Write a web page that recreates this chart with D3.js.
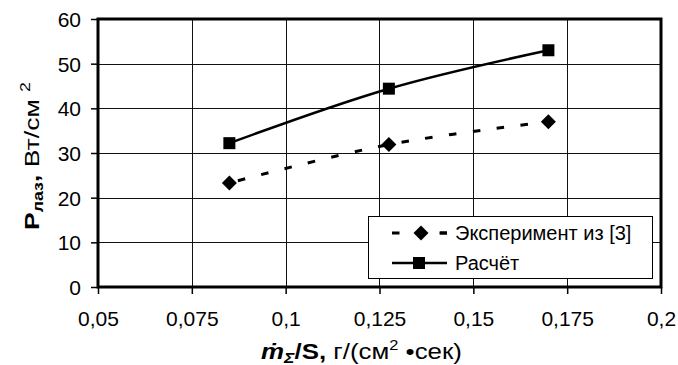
<!DOCTYPE html>
<html>
<head>
<script src="https://d3js.org/d3.v7.min.js"></script>
  <style type="text/css">
    body {
      margin: 0;
      background: #fff;
      font-family: "Liberation Sans", Arial, Helvetica, sans-serif;
    }
    .grid line { stroke: #111; stroke-width: 1; shape-rendering: crispEdges; }
    .axis text { font-size: 21px; fill: #000; font-family: "Liberation Sans", Arial, sans-serif; }
    .axis path, .axis line { stroke: #000; }
  </style>
</head>
<body>
<script type="text/javascript">

  // data
  var xValues = [0.085, 0.1275, 0.17];
  var expValues = [23.3, 31.9, 37.0];     // Эксперимент из [3]
  var calcValues = [32.2, 44.4, 53.0];    // Расчёт
  var seriesNames = ["Эксперимент из [3]", "Расчёт"];

  var xTicks = [0.05, 0.075, 0.1, 0.125, 0.15, 0.175, 0.2];
  var xTickLabels = ["0,05", "0,075", "0,1", "0,125", "0,15", "0,175", "0,2"];
  var yTicks = [0, 10, 20, 30, 40, 50, 60];
  var yTickLabels = ["0", "10", "20", "30", "40", "50", "60"];

  var margin = {top: 19, right: 17, bottom: 78, left: 98};
  var W = 678, H = 365;
  var width = W - margin.left - margin.right;
  var height = H - margin.top - margin.bottom;

  var svg = d3.select("body").append("svg")
      .attr("width", W)
      .attr("height", H);

  var g = svg.append("g")
      .attr("transform", "translate(" + margin.left + "," + margin.top + ")");

  var x = d3.scaleLinear().domain([0.05, 0.2]).range([0, width]);
  var y = d3.scaleLinear().domain([0, 60]).range([height, 0]);

  // grid
  var grid = g.append("g").attr("class", "grid");
  grid.selectAll(".vx").data(xTicks.slice(1, -1)).enter().append("line")
      .attr("x1", function(d) { return Math.round(x(d)) + 0.5; })
      .attr("x2", function(d) { return Math.round(x(d)) + 0.5; })
      .attr("y1", 0).attr("y2", height);
  grid.selectAll(".hy").data(yTicks.slice(1, -1)).enter().append("line")
      .attr("y1", function(d) { return Math.round(y(d)) + 0.5; })
      .attr("y2", function(d) { return Math.round(y(d)) + 0.5; })
      .attr("x1", 0).attr("x2", width);

  // axes
  var xAxis = d3.axisBottom(x).tickValues(xTicks).tickSize(7).tickPadding(17)
      .tickFormat(function(d, i) { return xTickLabels[i]; });
  var yAxis = d3.axisLeft(y).tickValues(yTicks).tickSize(7).tickPadding(10)
      .tickFormat(function(d, i) { return yTickLabels[i]; });

  var gx = g.append("g").attr("class", "axis")
      .attr("transform", "translate(0," + height + ")")
      .call(xAxis);
  gx.select(".domain").remove();
  gx.selectAll("line").attr("stroke-width", 1.5);

  var gy = g.append("g").attr("class", "axis").call(yAxis);
  gy.select(".domain").remove();
  gy.selectAll("line").attr("stroke-width", 1.5);
  gy.selectAll("text").attr("dy", "0.36em");

  // frame
  g.append("rect")
      .attr("x", 0).attr("y", 0)
      .attr("width", width).attr("height", height)
      .attr("fill", "none")
      .attr("stroke", "#000")
      .attr("stroke-width", 3);

  var line = d3.line()
      .x(function(d) { return x(d[0]); })
      .y(function(d) { return y(d[1]); })
      .curve(d3.curveCatmullRom.alpha(0));

  var expData = xValues.map(function(v, i) { return [v, expValues[i]]; });
  var calcData = xValues.map(function(v, i) { return [v, calcValues[i]]; });

  g.append("path").datum(expData)
      .attr("d", line)
      .attr("fill", "none")
      .attr("stroke", "#000")
      .attr("stroke-width", 3)
      .attr("stroke-dasharray", "7.5,16.5")
      .attr("stroke-dashoffset", -9);

  g.append("path").datum(calcData)
      .attr("d", line)
      .attr("fill", "none")
      .attr("stroke", "#000")
      .attr("stroke-width", 2.5);

  function diamond(sel, cx, cy) {
    sel.append("rect")
      .attr("x", -5.3).attr("y", -5.3).attr("width", 10.6).attr("height", 10.6)
      .attr("fill", "#000")
      .attr("transform", "translate(" + cx + "," + cy + ") rotate(45)");
  }
  function square(sel, cx, cy) {
    sel.append("rect")
      .attr("x", cx - 6).attr("y", cy - 6).attr("width", 12).attr("height", 12)
      .attr("fill", "#000");
  }

  expData.forEach(function(d) { diamond(g, x(d[0]), y(d[1])); });
  calcData.forEach(function(d) { square(g, x(d[0]), y(d[1])); });

  // legend
  var leg = svg.append("g");
  leg.append("rect")
      .attr("x", 368.5).attr("y", 216.5)
      .attr("width", 284).attr("height", 62)
      .attr("fill", "#fff")
      .attr("stroke", "#000")
      .attr("stroke-width", 1);

  leg.append("line")
      .attr("x1", 392).attr("x2", 447).attr("y1", 233).attr("y2", 233)
      .attr("stroke", "#000").attr("stroke-width", 3)
      .attr("stroke-dasharray", "7.5,40");
  leg.append("line")
      .attr("x1", 440).attr("x2", 447).attr("y1", 233).attr("y2", 233)
      .attr("stroke", "#000").attr("stroke-width", 3);
  diamond(leg, 421, 233);

  leg.append("line")
      .attr("x1", 392).attr("x2", 447).attr("y1", 263).attr("y2", 263)
      .attr("stroke", "#000").attr("stroke-width", 2.5);
  square(leg, 419, 263);

  leg.selectAll(".lt").data(seriesNames).enter().append("text")
      .attr("x", 455)
      .attr("y", function(d, i) { return 233 + i * 30; })
      .attr("dy", "0.36em")
      .attr("font-size", 20)
      .text(function(d) { return d; });

  // y title, stretched to the span it has in the picture
  var yt = svg.append("text")
      .attr("text-anchor", "middle")
      .attr("font-size", 21);
  yt.append("tspan").attr("font-weight", "bold").text("P");
  yt.append("tspan").attr("font-weight", "bold").attr("font-size", 14).attr("dy", 4).text("лаз");
  yt.append("tspan").attr("font-weight", "bold").attr("dy", -4).text(", ");
  yt.append("tspan").text("Вт/см ");
  yt.append("tspan").attr("font-size", 14).attr("dy", -9).text("2");
  var yLen = yt.node().getComputedTextLength();
  yt.attr("transform", "translate(39,156) rotate(-90) scale(" + (148 / yLen) + ",1)");

  // x title
  var xt = svg.append("text")
      .attr("x", 0).attr("y", 0)
      .attr("font-size", 22);
  xt.append("tspan").attr("font-weight", "bold").attr("font-style", "italic").text("ṁ");
  xt.append("tspan").attr("font-weight", "bold").attr("font-style", "italic")
      .attr("font-size", 15).attr("dy", 4).text("Σ");
  xt.append("tspan").attr("font-weight", "bold").attr("dy", -4).text("/S,");
  xt.append("tspan").text(" г/(см");
  xt.append("tspan").attr("font-size", 14).attr("dy", -9).text("2");
  xt.append("tspan").attr("dy", 9).text(" •сек)");
  var xLen = xt.node().getComputedTextLength();
  xt.attr("transform", "translate(261,359) scale(" + (201 / xLen) + ",1)");

</script>
</body>
</html>
